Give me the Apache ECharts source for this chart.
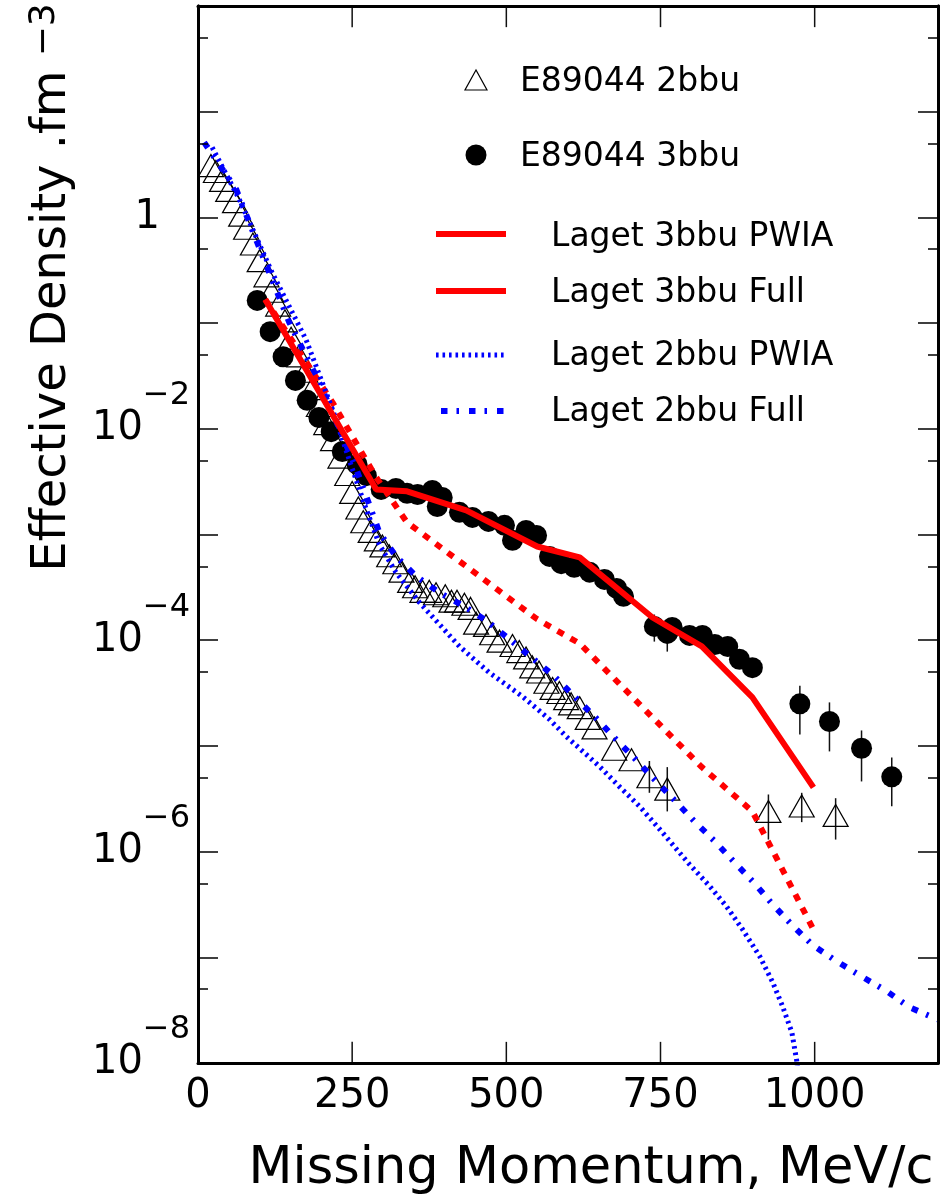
<!DOCTYPE html>
<html>
<head>
<meta charset="utf-8">
<script src="https://cdn.jsdelivr.net/npm/echarts@6/dist/echarts.min.js"></script>
<style>
  html, body { margin: 0; padding: 0; background: #fff; }
  #chart { width: 943px; height: 1201px; }
</style>
</head>
<body>
<div id="chart"></div>
<script>
// E89044 2bbu measurements (open triangles): missing momentum [MeV/c], density [fm^-3]
const p2bbu = [21, 29, 39, 49, 60, 70, 78, 89, 100, 111, 119, 130, 141, 151, 164, 174, 185, 196, 208, 219,
  231, 242, 250, 260, 268, 280, 290, 299, 310, 320, 330, 344, 352, 364, 375, 386, 401, 411, 420, 432,
  442, 451, 467, 477, 489, 510, 521, 532, 542, 553, 565, 575, 586, 597, 605, 619, 632, 643, 675, 703,
  732, 761, 925, 979, 1034];
const d2bbu = [3.09, 2.72, 2.24, 1.80, 1.41, 1.05, 0.79, 0.56, 0.39, 0.28, 0.20, 0.148, 0.105, 0.072, 0.049, 0.035, 0.024, 0.0166, 0.0112, 0.0079,
  0.0054, 0.0037, 0.0025, 0.00178, 0.00132, 0.00107, 0.00089, 0.00078, 0.00063, 0.00054, 0.00045, 0.00036, 0.00032, 0.00029, 0.00029, 0.000275, 0.000263, 0.000234, 0.000234, 0.000219,
  0.0002, 0.000145, 0.000138, 0.000115, 9.8e-5, 8.9e-5, 7.8e-5, 6.8e-5, 5.6e-5, 5.0e-5, 4.0e-5, 3.5e-5, 3.2e-5, 2.8e-5, 2.5e-5, 2.3e-5, 1.82e-5, 1.48e-5, 9.3e-6, 7.4e-6,
  5.1e-6, 3.9e-6, 2.4e-6, 2.7e-6, 2.2e-6];
// error bars on the high-momentum 2bbu points
const p2bbuErr = [732, 761, 925, 979, 1034];
const lo2bbuErr = [3.6e-6, 2.4e-6, 1.30e-6, 1.9e-6, 1.30e-6];
const hi2bbuErr = [7.2e-6, 6.3e-6, 3.47e-6, 3.6e-6, 3.2e-6];

// E89044 3bbu measurements (filled circles)
const p3bbu = [96, 117, 138, 158, 177, 196, 216, 234, 258, 273, 297, 321, 339, 356, 380, 388, 396, 424, 445, 471,
  497, 510, 532, 549, 570, 589, 610, 635, 659, 679, 690, 740, 761, 769, 797, 818, 838, 859, 878, 899,
  976, 1024, 1076, 1125];
const d3bbu = [0.164, 0.083, 0.048, 0.0287, 0.0186, 0.0128, 0.0094, 0.0061, 0.0046, 0.0036,
  0.00267, 0.00273, 0.00245, 0.00239, 0.00261, 0.00184, 0.00224, 0.00162, 0.00145, 0.00133,
  0.00122, 0.00088, 0.00109, 0.00098, 0.00062, 0.00053, 0.00049, 0.00044, 0.000376, 0.000309,
  0.00026, 0.000135, 0.000116, 0.000132, 0.000111, 0.000111, 9.1e-5, 8.7e-5, 6.6e-5, 5.5e-5,
  2.5e-5, 1.7e-5, 9.5e-6, 5.1e-6];
const p3bbuErr = [740, 761, 976, 1024, 1076, 1125];
const lo3bbuErr = [9.7e-5, 7.8e-5, 1.28e-5, 8.87e-6, 4.61e-6, 2.68e-6];
const hi3bbuErr = [1.75e-4, 1.51e-4, 3.7e-5, 2.58e-5, 1.40e-5, 7.78e-6];

// Laget calculations
const pLaget3Full = [109, 289, 339, 435, 550, 619, 737, 817, 899, 998];
const dLaget3Full = [0.1675, 0.00267, 0.00256, 0.00169, 0.00077, 0.000607, 0.000164, 8.73e-5, 2.88e-5, 4.05e-6];
const pLaget3Pwia = [109, 218, 289, 339, 435, 550, 619, 737, 817, 899, 1000];
const dLaget3Pwia = [0.1675, 0.0178, 0.00347, 0.0013, 0.0005, 0.000158, 9.3e-5, 1.86e-5, 6.3e-6, 2.4e-6, 1.74e-7];
const pLaget2Pwia = [23, 67, 120, 175, 218, 245, 270, 294, 321, 359, 424, 472, 526, 570, 597, 651, 683, 716, 753,
  797, 830, 857, 883, 911, 932, 948, 963, 971, 976];
const dLaget2Pwia = [4.59, 1.48, 0.302, 0.0701, 0.0153, 0.00514, 0.00193, 0.000805, 0.000438, 0.000228, 8.73e-5, 4.95e-5,
  2.94e-5, 1.78e-5, 1.23e-5, 6.4e-6, 4.14e-6, 2.68e-6, 1.52e-6, 7.57e-7, 4.69e-7, 3.03e-7, 1.84e-7, 1.02e-7,
  5.79e-8, 3.43e-8, 1.95e-8, 1.04e-8, 5.6e-9];
const pLaget2Full = [10, 62, 96, 148, 192, 218, 257, 294, 321, 354, 391, 432, 469, 505, 541, 578, 610, 643, 675,
  708, 740, 773, 805, 838, 870, 901, 932, 964, 997, 1036, 1076, 1115, 1154, 1200];
const dLaget2Full = [5.13, 1.84, 0.579, 0.1016, 0.0313, 0.0143, 0.00413, 0.00105, 0.000621, 0.000402, 0.000283,
  0.000209, 0.000151, 0.000102, 6.87e-5, 4.55e-5, 2.94e-5, 1.90e-5, 1.20e-5, 7.62e-6, 4.82e-6, 3.05e-6,
  1.93e-6, 1.25e-6, 7.91e-7, 5.12e-7, 3.16e-7, 2.00e-7, 1.30e-7, 9.14e-8, 6.59e-8, 4.86e-8, 3.36e-8, 2.58e-8];

// axis ticks
const xLabels = [0, 250, 500, 750, 1000];
const xTickMarks = [250, 500, 750, 1000];
const yLabelDecades = [-8, -6, -4, -2, 0];
const yMinorTicks = [-7.301, -6.301, -5.301, -4.301, -3.301, -2.301, -1.301, -0.301, 0.699, 1.699];

const legendLabels = ['E89044 2bbu', 'E89044 3bbu', 'Laget 3bbu PWIA', 'Laget 3bbu Full', 'Laget 2bbu PWIA', 'Laget 2bbu Full'];

const FONT = 'DejaVu Sans';
const RED = '#ff0000';
const BLUE = '#0000ff';
const Y_MIN = -8, Y_MAX = 2;
// momentum tick length, in decades of the density axis (about 21 px)
const X_TICK_DEC = 0.2;

// the density axis is a linear axis in log10 units
const lg = v => Math.log10(v);
const pairs = (ps, ds) => ps.map((p, i) => [p, lg(ds[i])]);
const errs = (ps, lo, hi) => ps.map((p, i) => [p, lg(lo[i]), lg(hi[i])]);

// vertical segment between two values at one momentum (error bars and frame ticks)
function vSegment(params, api) {
  const a = api.coord([api.value(0), api.value(1)]);
  const b = api.coord([api.value(0), api.value(2)]);
  return {
    type: 'line',
    shape: { x1: a[0], y1: a[1], x2: b[0], y2: b[1] },
    style: { stroke: '#111', lineWidth: 1.5 }
  };
}

// tick marks on the lower and upper frame edges
const xTickSegments = xTickMarks.map(v => [v, Y_MIN, Y_MIN + X_TICK_DEC])
  .concat(xTickMarks.map(v => [v, Y_MAX - X_TICK_DEC, Y_MAX]));

const chart = echarts.init(document.getElementById('chart'), null, { renderer: 'canvas' });

const tickStyle = { color: '#000', width: 1.5 };
const frameLine = () => ({ show: true, onZero: false, lineStyle: { color: '#000', width: 3 } });
const yBase = () => ({ type: 'value', min: Y_MIN, max: Y_MAX, interval: 1, gridIndex: 0, z: 10,
  axisLine: frameLine(), splitLine: { show: false } });
const xBase = () => ({ type: 'value', min: 0, max: 1200, interval: 250, gridIndex: 0, z: 10,
  axisLine: frameLine(), splitLine: { show: false } });

const LEG_X1 = 436, LEG_X2 = 506;

chart.setOption({
  animation: false,
  backgroundColor: '#fff',
  textStyle: { fontFamily: FONT },
  grid: {
    left: 198, top: 6, width: 740, height: 1057,
    show: false, containLabel: false, outerBoundsMode: 'none'
  },
  xAxis: [
    Object.assign(xBase(), {
      position: 'bottom',
      axisTick: { show: false },
      axisLabel: {
        fontSize: 40, color: '#000', margin: 14, lineHeight: 40, fontFamily: FONT,
        customValues: xLabels, formatter: v => String(v)
      },
      name: 'Missing Momentum, MeV/c', nameLocation: 'middle', nameGap: 82, nameMoveOverlap: false,
      nameTextStyle: { fontSize: 51, lineHeight: 50, color: '#000', fontFamily: FONT, padding: [0, 0, 0, 46] }
    }),
    Object.assign(xBase(), {
      position: 'top',
      axisTick: { show: false },
      axisLabel: { show: false }
    })
  ],
  yAxis: [
    Object.assign(yBase(), {
      position: 'left',
      axisTick: { show: true, inside: true, length: 20, lineStyle: tickStyle },
      axisLabel: {
        color: '#000', margin: 8, fontFamily: FONT, showMinLabel: true, showMaxLabel: true,
        formatter: v => {
          if (yLabelDecades.indexOf(v) < 0) return '';
          if (v === 0) return '{m|1}{g| }';
          return '{m|10}{s|\u2212' + (-v) + '}';
        },
        rich: {
          m: { fontSize: 40, lineHeight: 98, color: '#000', fontFamily: FONT },
          s: { fontSize: 32, lineHeight: 32, verticalAlign: 'top', color: '#000', fontFamily: FONT },
          g: { width: 30, fontSize: 40 }
        }
      },
      name: '{a|Effective Density .fm}{s|\u22123}', nameLocation: 'middle', nameGap: 117, nameMoveOverlap: false,
      nameTextStyle: {
        padding: [0, 0, 0, 494],
        rich: {
          a: { fontSize: 48, lineHeight: 56, color: '#000', fontFamily: FONT },
          s: { fontSize: 36, color: '#000', fontFamily: FONT, padding: [0, 0, 16, 14] }
        }
      }
    }),
    Object.assign(yBase(), {
      position: 'left',
      axisTick: { show: true, inside: true, length: 10, customValues: yMinorTicks, lineStyle: tickStyle },
      axisLabel: { show: false }
    }),
    Object.assign(yBase(), {
      position: 'right',
      axisTick: { show: true, inside: true, length: 20, lineStyle: tickStyle },
      axisLabel: { show: false }
    }),
    Object.assign(yBase(), {
      position: 'right',
      axisTick: { show: true, inside: true, length: 10, customValues: yMinorTicks, lineStyle: tickStyle },
      axisLabel: { show: false }
    })
  ],
  series: [
    {
      name: 'momentum ticks', type: 'custom', renderItem: vSegment, z: 1,
      encode: { x: 0, y: [1, 2] }, data: xTickSegments
    },
    {
      name: 'E89044 2bbu errors', type: 'custom', renderItem: vSegment, z: 1,
      encode: { x: 0, y: [1, 2] }, data: errs(p2bbuErr, lo2bbuErr, hi2bbuErr)
    },
    {
      name: 'E89044 3bbu errors', type: 'custom', renderItem: vSegment, z: 1,
      encode: { x: 0, y: [1, 2] }, data: errs(p3bbuErr, lo3bbuErr, hi3bbuErr)
    },
    {
      name: legendLabels[0], type: 'scatter', z: 2,
      symbol: 'triangle', symbolSize: [25, 22],
      itemStyle: { color: 'rgba(0,0,0,0)', borderColor: '#000', borderWidth: 1.2, opacity: 1 },
      data: pairs(p2bbu, d2bbu)
    },
    {
      name: legendLabels[1], type: 'scatter', z: 2,
      symbol: 'circle', symbolSize: 21,
      itemStyle: { color: '#000', opacity: 1 },
      data: pairs(p3bbu, d3bbu)
    },
    {
      name: legendLabels[2], type: 'line', z: 3, symbol: 'none',
      lineStyle: { color: RED, width: 6, type: [7, 8], cap: 'butt' },
      data: pairs(pLaget3Pwia, dLaget3Pwia)
    },
    {
      name: legendLabels[4], type: 'line', z: 3, symbol: 'none',
      lineStyle: { color: BLUE, width: 5, type: [2.6, 3.9], cap: 'butt' },
      data: pairs(pLaget2Pwia, dLaget2Pwia)
    },
    {
      name: legendLabels[5], type: 'line', z: 3, symbol: 'none',
      lineStyle: { color: BLUE, width: 6, type: [6.5, 9, 2.5, 10], cap: 'butt' },
      data: pairs(pLaget2Full, dLaget2Full)
    },
    {
      name: legendLabels[3], type: 'line', z: 4, symbol: 'none',
      lineStyle: { color: RED, width: 6, cap: 'butt' },
      data: pairs(pLaget3Full, dLaget3Full)
    }
  ],
  // key drawn inside the frame, upper right
  graphic: [
    { type: 'polygon', shape: { points: [[476, 70], [465, 90], [487, 90]] },
      style: { fill: 'none', stroke: '#000', lineWidth: 1.2 } },
    { type: 'text', style: { text: legendLabels[0], x: 520, y: 82, fill: '#000', fontSize: 33, fontFamily: FONT, verticalAlign: 'middle' } },
    { type: 'circle', shape: { cx: 476, cy: 155, r: 10.5 }, style: { fill: '#000' } },
    { type: 'text', style: { text: legendLabels[1], x: 520, y: 157, fill: '#000', fontSize: 33, fontFamily: FONT, verticalAlign: 'middle' } },
    { type: 'line', shape: { x1: LEG_X1, y1: 234, x2: LEG_X2, y2: 234 }, style: { stroke: RED, lineWidth: 6 } },
    { type: 'text', style: { text: legendLabels[2], x: 551, y: 237, fill: '#000', fontSize: 33, fontFamily: FONT, verticalAlign: 'middle' } },
    { type: 'line', shape: { x1: LEG_X1, y1: 291, x2: LEG_X2, y2: 291 }, style: { stroke: RED, lineWidth: 6 } },
    { type: 'text', style: { text: legendLabels[3], x: 551, y: 293, fill: '#000', fontSize: 33, fontFamily: FONT, verticalAlign: 'middle' } },
    { type: 'line', shape: { x1: LEG_X1, y1: 355, x2: LEG_X2, y2: 355 }, style: { stroke: BLUE, lineWidth: 5, lineDash: [2.6, 3.9] } },
    { type: 'text', style: { text: legendLabels[4], x: 551, y: 356, fill: '#000', fontSize: 33, fontFamily: FONT, verticalAlign: 'middle' } },
    { type: 'line', shape: { x1: 441, y1: 411, x2: LEG_X2, y2: 411 }, style: { stroke: BLUE, lineWidth: 6, lineDash: [6.5, 9, 2.5, 10] } },
    { type: 'text', style: { text: legendLabels[5], x: 551, y: 412, fill: '#000', fontSize: 33, fontFamily: FONT, verticalAlign: 'middle' } }
  ]
});
</script>
</body>
</html>
